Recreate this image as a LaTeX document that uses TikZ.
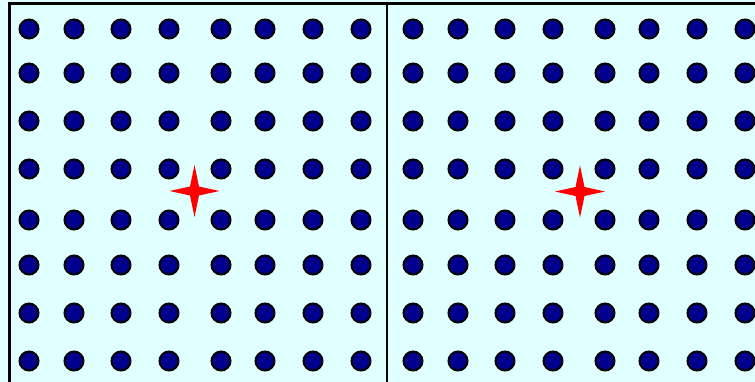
\documentclass[tikz,border=0pt]{standalone}
\begin{document}
\begin{tikzpicture}[x=1pt,y=-1pt,
  dotc/.style={fill={rgb,255:red,0;green,0;blue,140},draw=black,line width=2pt},
  starc/.style={fill=red,draw=none}]
\definecolor{bgc}{RGB}{224,255,255}
\useasboundingbox (0,0) rectangle (755,382);
\fill[bgc] (0,0) rectangle (755,382);
\draw[line width=2.5pt] (9.5,390) -- (9.5,3.5) -- (760,3.5);
\draw[line width=2.5pt] (387,3.5) -- (387,390);
\foreach \ox in {0,384}{
  \foreach \x in {29,74,121,169,221,265,313,361}{
    \foreach \y in {29,73,121,169,220,265,313,361}{
      \path[dotc] (\x+\ox,\y) circle (9.5);
    }
  }
}
\foreach \cx/\cy in {194.5/191,580/191.5}{
  \fill[starc] (\cx+25,\cy) -- (\cx+4.5,\cy-4.5) -- (\cx,\cy-26) -- (\cx-4.5,\cy-4.5)
    -- (\cx-25,\cy) -- (\cx-4.5,\cy+4.5) -- (\cx,\cy+26) -- (\cx+4.5,\cy+4.5) -- cycle;
}
\end{tikzpicture}
\end{document}
